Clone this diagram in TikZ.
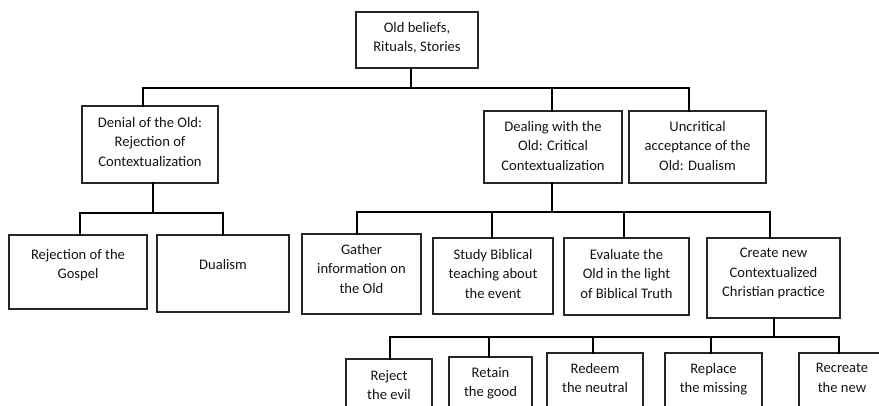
\documentclass[tikz,border=0pt]{standalone}
\usepackage{fontspec}
\setmainfont{Carlito}
\begin{document}
\begin{tikzpicture}[x=1pt,y=-1pt,
  box/.style 2 args={draw=black!85, line width=1.4pt, inner sep=0pt, minimum width=#1, minimum height=#2},
  txt/.style={font=\fontsize{14.6}{19.5}\selectfont, align=center, inner sep=0pt, anchor=north, text=black!92},
  conn/.style={line width=2.7pt, draw=black, line cap=rect}]
\useasboundingbox (0,0) rectangle (879,405);

% boxes
\node[box={122pt}{56pt}] (top) at (417,40) {};
\node[box={136pt}{77pt}] (denial) at (150,144.5) {};
\node[box={138pt}{72pt}] (dealing) at (553,147) {};
\node[box={137pt}{72pt}] (uncrit) at (697.5,147) {};
\node[box={138pt}{74pt}] (rejgos) at (78,272) {};
\node[box={132pt}{77pt}] (dual) at (223,273.5) {};
\node[box={119pt}{80pt}] (gather) at (361.5,274) {};
\node[box={120pt}{76pt}] (study) at (493,276) {};
\node[box={125pt}{77pt}] (eval) at (626.5,276.5) {};
\node[box={133pt}{80pt}] (create) at (773.5,278) {};
\node[box={86pt}{66pt}] (reject) at (389,392) {};
\node[box={83pt}{68pt}] (retain) at (490.5,391) {};
\node[box={96pt}{72pt}] (redeem) at (595,389) {};
\node[box={97pt}{72pt}] (replace) at (713.5,389) {};
\node[box={86pt}{72pt}] (recreate) at (842,389) {};

% texts
\node[txt] (t-top) at (417,22) {Old beliefs,\\Rituals, Stories};
\node[txt] (t-denial) at (150,117) {Denial of the Old:\\Rejection of\\Contextualization};
\node[txt] (t-dealing) at (553,121) {Dealing with the\\Old: Critical\\Contextualization};
\node[txt] (t-uncrit) at (697.5,121) {Uncritical\\acceptance of the\\Old: Dualism};
\node[txt] (t-rejgos) at (78,249) {Rejection of the\\Gospel};
\node[txt] (t-dual) at (223,259) {Dualism};
\node[txt] (t-gather) at (361.5,244) {Gather\\information on\\the Old};
\node[txt] (t-study) at (493,249) {Study Biblical\\teaching about\\the event};
\node[txt] (t-eval) at (626.5,249) {Evaluate the\\Old in the light\\of Biblical Truth};
\node[txt] (t-create) at (773.5,248) {Create new\\Contextualized\\Christian practice};
\node[txt] (t-reject) at (389,370) {Reject\\the evil};
\node[txt] (t-retain) at (490.5,367) {Retain\\the good};
\node[txt] (t-redeem) at (595,363) {Redeem\\the neutral};
\node[txt] (t-replace) at (713.5,363) {Replace\\the missing};
\node[txt] (t-recreate) at (842,363) {Recreate\\the new};

% level 1 connectors
\coordinate (jtop) at (411,88);
\coordinate (jdenial) at (143,88);
\coordinate (jdealing) at (552,88);
\coordinate (juncrit) at (689,88);
\draw[conn] (jtop |- top.south) -- (jtop);
\draw[conn] (jdenial) -- (juncrit);
\draw[conn] (jdenial) -- (jdenial |- denial.north);
\draw[conn] (jdealing) -- (jdealing |- dealing.north);
\draw[conn] (juncrit) -- (juncrit |- uncrit.north);

% denial children
\coordinate (kd) at (153,213);
\coordinate (kr) at (80,213);
\coordinate (kdu) at (223,213);
\draw[conn] (kd |- denial.south) -- (kd);
\draw[conn] (kr) -- (kdu);
\draw[conn] (kr) -- (kr |- rejgos.north);
\draw[conn] (kdu) -- (kdu |- dual.north);

% dealing children
\coordinate (ke) at (552,212);
\coordinate (kg) at (357,212);
\coordinate (ks) at (492,212);
\coordinate (kv) at (624,212);
\coordinate (kc) at (770,212);
\draw[conn] (ke |- dealing.south) -- (ke);
\draw[conn] (kg) -- (kc);
\draw[conn] (kg) -- (kg |- gather.north);
\draw[conn] (ks) -- (ks |- study.north);
\draw[conn] (kv) -- (kv |- eval.north);
\draw[conn] (kc) -- (kc |- create.north);

% create children
\coordinate (kcr) at (774,337);
\coordinate (m1) at (390,337);
\coordinate (m2) at (489,337);
\coordinate (m3) at (593,337);
\coordinate (m4) at (711,337);
\coordinate (m5) at (839,337);
\draw[conn] (kcr |- create.south) -- (kcr);
\draw[conn] (m1) -- (m5);
\draw[conn] (m1) -- (m1 |- reject.north);
\draw[conn] (m2) -- (m2 |- retain.north);
\draw[conn] (m3) -- (m3 |- redeem.north);
\draw[conn] (m4) -- (m4 |- replace.north);
\draw[conn] (m5) -- (m5 |- recreate.north);
\end{tikzpicture}
\end{document}
